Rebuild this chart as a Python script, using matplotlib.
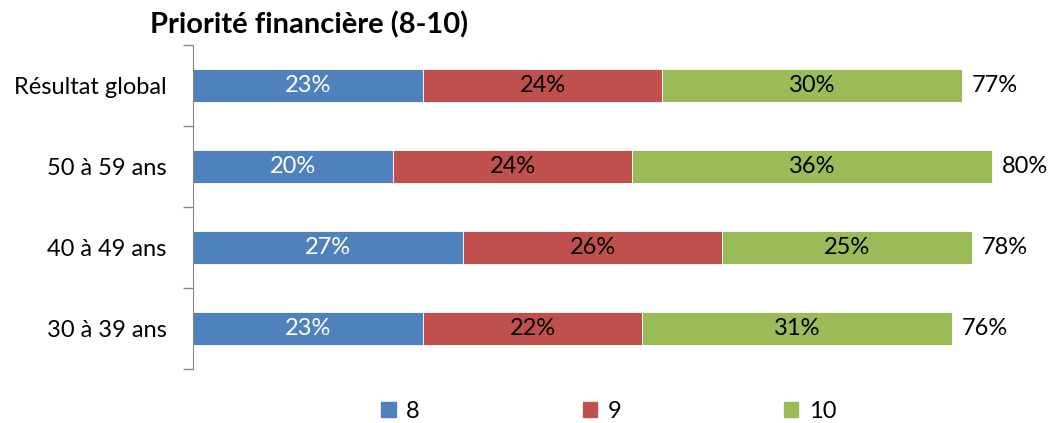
import numpy as np
import matplotlib.pyplot as plt
from matplotlib.patches import Patch

plt.rcParams['font.family'] = ['Lato', 'DejaVu Sans']

categories = ['Résultat global', '50 à 59 ans', '40 à 49 ans', '30 à 39 ans']
series_names = ['8', '9', '10']
v8 = [23, 20, 27, 23]
v9 = [24, 24, 26, 22]
v10 = [30, 36, 25, 31]
totals = [77, 80, 78, 76]
colors = ['#4F81BD', '#C0504D', '#9BBB59']
text_colors = ['white', 'black', 'black']

fs = 17

fig = plt.figure(figsize=(10.53, 4.23), dpi=100)
ax = fig.add_axes([193/1053, 1 - 369/423, 1 - 193/1053, 324/423])

y = np.arange(len(categories))
left = np.zeros(len(categories))
for vals, c, tc in zip([v8, v9, v10], colors, text_colors):
    vals = np.array(vals, dtype=float)
    ax.barh(y, vals, left=left, height=0.4, color=c, edgecolor='white', linewidth=0.6)
    for yi, l, v in zip(y, left, vals):
        ax.text(l + v / 2, yi, f'{int(v)}%', ha='center', va='center',
                color=tc, fontsize=fs)
    left += vals

for yi, l, t in zip(y, left, totals):
    ax.text(l + 1.0, yi, f'{t}%', ha='left', va='center', fontsize=fs)

ax.set_xlim(0, 86.1)
ax.set_ylim(3.5, -0.5)
ax.set_xticks([])
ax.set_yticks(y)
ax.set_yticklabels(categories, fontsize=fs)
ax.tick_params(axis='y', which='major', length=0, pad=19)
ax.set_yticks(np.arange(-0.5, 4, 1), minor=True)
ax.tick_params(axis='y', which='minor', length=7, color='#868686', width=1)
for s in ['top', 'right', 'bottom']:
    ax.spines[s].set_visible(False)
ax.spines['left'].set_color('#868686')

fig.text(150/1053, 1 - 25/423, 'Priorité financière (8-10)', fontsize=21,
         fontweight='bold', va='center', ha='left')

handles = [Patch(color=c) for c in colors]
fig.legend(handles, series_names, loc='center', bbox_to_anchor=(609/1053, 1 - 411/423),
           ncol=3, frameon=False, fontsize=fs, handlelength=0.6, handleheight=0.6,
           columnspacing=6.9, handletextpad=0.45)

fig.savefig('out.png', dpi=100)
